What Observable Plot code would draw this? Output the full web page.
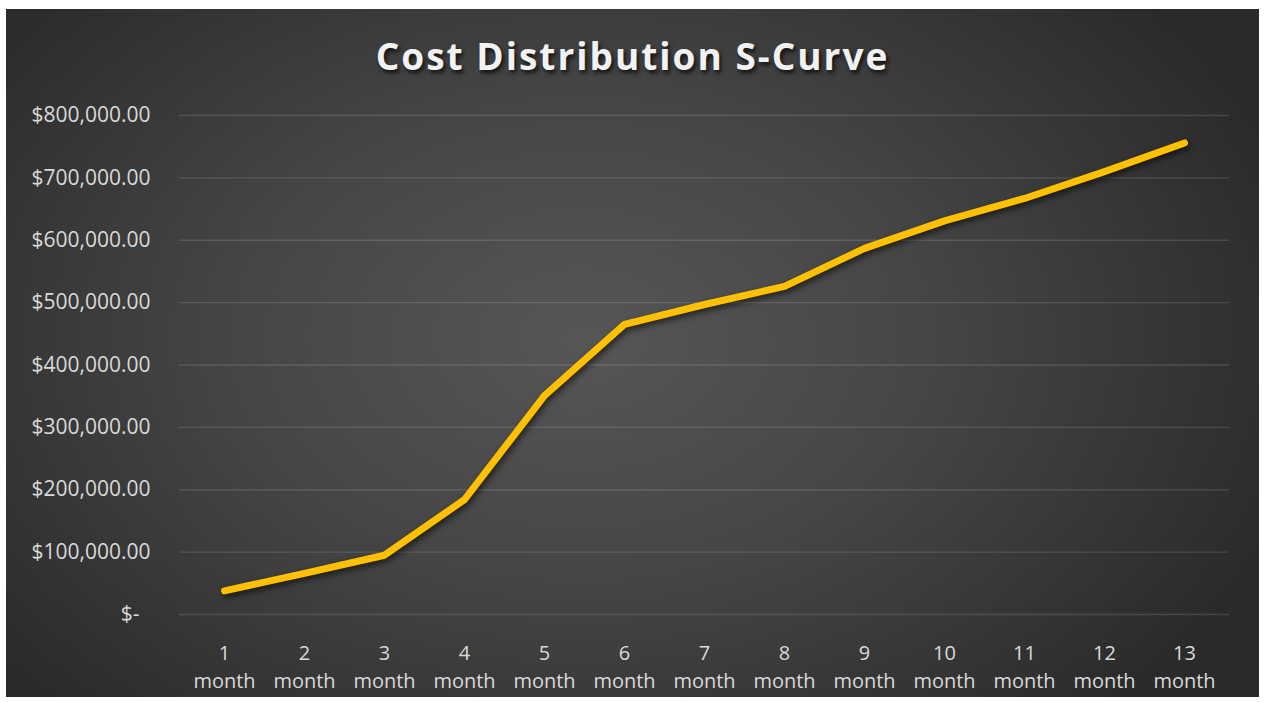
<!DOCTYPE html>
<html>
<head>
<meta charset="utf-8">
<script src="https://cdn.jsdelivr.net/npm/d3@7"></script>
<script src="https://cdn.jsdelivr.net/npm/@observablehq/plot@0.6"></script>
<style>
  html, body { margin: 0; padding: 0; background: #ffffff; overflow: hidden; }
  #frame {
    position: absolute; left: 6px; top: 9px; width: 1253px; height: 688px;
    background: radial-gradient(ellipse 60% 75% at 46% 48%, #565656 0%, #464646 45%, #2a2a2a 100%);
    overflow: hidden;
  }
  #title {
    position: absolute; left: 6px; top: 30px; width: 1253px; text-align: center;
    font-family: "Open Sans", sans-serif; font-weight: 700; font-size: 37px; line-height: normal;
    letter-spacing: 2px; color: #f2f2f2;
    text-shadow: 2px 3px 4px rgba(0,0,0,0.75);
  }
  #chart { position: absolute; left: 0; top: 0; width: 1265px; height: 702px; }
  #chart svg { max-width: none !important; }
  .line path { filter: drop-shadow(2px 3px 3px rgba(0,0,0,0.6)); }
</style>
</head>
<body>
<div id="frame"></div>
<div id="chart"></div>
<div id="title">Cost Distribution S-Curve</div>
<script>
const months = ["1 month","2 month","3 month","4 month","5 month","6 month","7 month","8 month","9 month","10 month","11 month","12 month","13 month"];
const cost = [38000, 66000, 95000, 184000, 351000, 465000, 497000, 526000, 587000, 631000, 667000, 710000, 756000];
const yTicks = [0, 100000, 200000, 300000, 400000, 500000, 600000, 700000, 800000];

const data = months.map((m, i) => ({month: m, cost: cost[i]}));
const money = d3.format(",.2f");

const chart = Plot.plot({
  width: 1265,
  height: 702,
  marginLeft: 179,
  marginRight: 36,
  marginTop: 115,
  marginBottom: 88,
  style: {background: "transparent", color: "#d9d9d9", fontFamily: "'Open Sans', sans-serif", fontSize: "21px", maxWidth: "none"},
  x: {type: "point", domain: months, padding: 0.5, label: null},
  y: {domain: [0, 800000], label: null},
  marks: [
    Plot.gridY(yTicks, {stroke: "#ffffff", strokeOpacity: 0.13, strokeWidth: 1.3}),
    Plot.axisY(yTicks.filter(d => d !== 0), {tickSize: 0, tickPadding: 29, label: null, fill: "#d9d9d9", fontSize: 21,
      tickFormat: d => "$" + money(d)}),
    Plot.axisY([0], {tickSize: 0, tickPadding: 40, label: null, fill: "#d9d9d9", fontSize: 21,
      tickFormat: () => "$-"}),
    Plot.axisX({tickSize: 0, tickPadding: 25, label: null, fill: "#d9d9d9", fontSize: 20, lineHeight: 1.42,
      tickFormat: d => d.replace(" ", "\n")}),
    Plot.line(data, {x: "month", y: "cost", stroke: "#FFC000", strokeWidth: 7, strokeLinecap: "round", strokeLinejoin: "round", className: "line"})
  ]
});
document.getElementById("chart").appendChild(chart);
</script>
</body>
</html>
